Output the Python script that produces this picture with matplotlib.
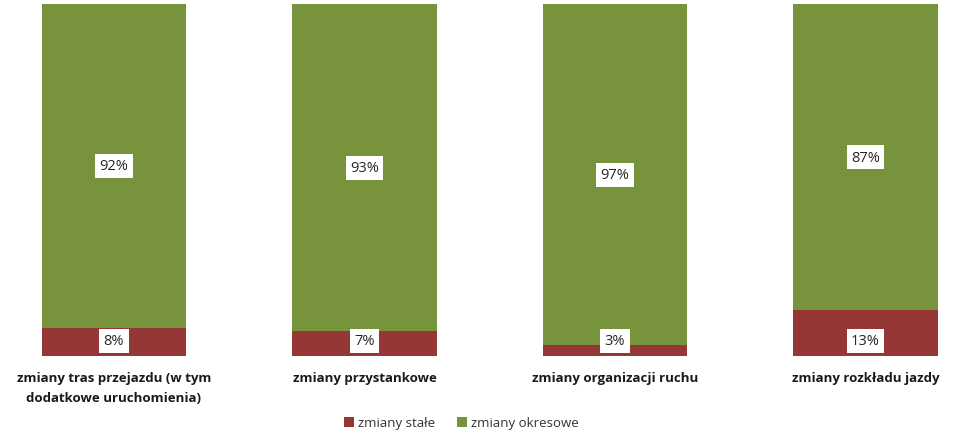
import matplotlib.pyplot as plt
import numpy as np

plt.rcParams['font.family'] = ['Open Sans', 'DejaVu Sans']

categories = ["zmiany tras przejazdu (w tym\ndodatkowe uruchomienia)",
              "zmiany przystankowe",
              "zmiany organizacji ruchu",
              "zmiany rozkładu jazdy"]
stale = [8, 7, 3, 13]
okresowe = [92, 93, 97, 87]
series_names = ["zmiany stałe", "zmiany okresowe"]

red = "#953735"
green = "#77933C"

fig = plt.figure(figsize=(9.61, 4.35), dpi=100)
ax = fig.add_axes([0, 78 / 435, 1, 352 / 435])

x = np.arange(len(categories))
w = 0.575
ax.bar(x, stale, w, color=red, label=series_names[0])
ax.bar(x, okresowe, w, bottom=stale, color=green, label=series_names[1])

box = dict(boxstyle="square,pad=0.3", fc="white", ec="none")
for i in range(len(categories)):
    # labels of the small series sit near the base of the bar
    ax.text(x[i], 4.3, f"{stale[i]}%", ha="center", va="center",
            fontsize=10.5, color="#262626", bbox=box)
    ax.text(x[i], stale[i] + okresowe[i] / 2, f"{okresowe[i]}%", ha="center",
            va="center", fontsize=10.5, color="#262626", bbox=box)

ax.set_xlim(-114 / 250.5, 847 / 250.5)
ax.set_ylim(0, 100)
ax.set_xticks(x)
ax.set_xticklabels(categories, fontsize=9.5, fontweight="bold", color="#1a1a1a",
                   linespacing=1.65)
ax.tick_params(axis="x", length=0, pad=11)
ax.set_yticks([])
for s in ax.spines.values():
    s.set_visible(False)

ax.legend(loc="center", bbox_to_anchor=(0.48, -0.19), ncol=2, frameon=False,
          fontsize=9.5, handlelength=0.8, handleheight=0.8, handletextpad=0.3,
          columnspacing=1.6, labelcolor="#333333")

plt.savefig("out.png", dpi=100)
